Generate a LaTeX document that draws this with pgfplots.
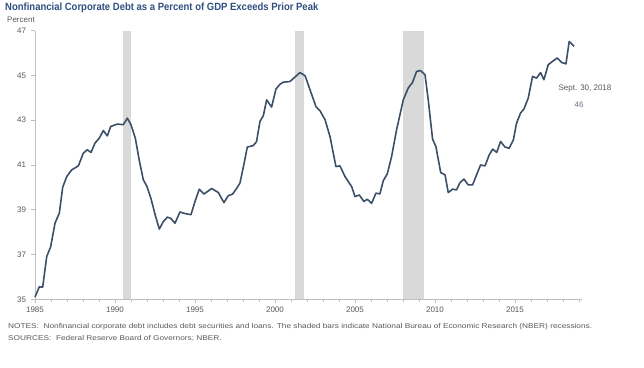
\documentclass[border=0pt]{standalone}
\usepackage{pgfplots}
\pgfplotsset{compat=1.18}
\usepackage{fontspec}
\setmainfont{Liberation Sans}
\definecolor{titleblue}{HTML}{2F4F7F}
\definecolor{linec}{HTML}{3B5068}
\definecolor{txtgray}{HTML}{595959}
\definecolor{axgray}{HTML}{BFBFBF}
\definecolor{recgray}{HTML}{D9D9D9}
\begin{document}
\begin{tikzpicture}[x=1pt,y=1pt]
\path[use as bounding box] (0,0) rectangle (644,367);
\node[anchor=west, inner sep=0, text=titleblue, font=\fontsize{10.5}{12}\selectfont\bfseries] at (5,359) {\scalebox{0.905}[1]{Nonfinancial Corporate Debt as a Percent of GDP Exceeds Prior Peak}};
\node[anchor=west, inner sep=0, text=txtgray, font=\fontsize{8}{9}\selectfont] at (7,347) {Percent};
\begin{axis}[
  at={(35pt,67.7pt)}, anchor=south west,
  scale only axis, width=546.5pt, height=268.6pt,
  xmin=1985, xmax=2019.16, ymin=35, ymax=47,
  axis x line*=bottom, axis y line*=left,
  axis line style={axgray, line width=0.8pt},
  xtick={1985,1990,...,2015}, minor xtick={1985,...,2019},
  ytick={35,37,...,47},
  tick align=outside,
  major tick length=4pt, minor tick length=3pt,
  tick style={axgray, line width=0.6pt},
  x tick label style={/pgf/number format/1000 sep={}, text=txtgray, font=\fontsize{8}{9}\selectfont},
  y tick label style={text=txtgray, font=\fontsize{8}{9}\selectfont, xshift=-1.5pt},
  /pgf/number format/assume math mode=true,
  clip=false,
]
\addplot[fill=recgray, draw=none] coordinates {(1990.5,35) (1991.0,35) (1991.0,47) (1990.5,47)} --cycle;
\addplot[fill=recgray, draw=none] coordinates {(2001.25,35) (2001.8,35) (2001.8,47) (2001.25,47)} --cycle;
\addplot[fill=recgray, draw=none] coordinates {(2008.0,35) (2009.3,35) (2009.3,47) (2008.0,47)} --cycle;
\addplot[linec, line width=1.6pt, line join=round] coordinates {
(1985.0,35.1) (1985.27,35.56) (1985.48,35.54) (1985.73,36.9) (1985.98,37.35)
(1986.25,38.4) (1986.52,38.85) (1986.73,40.0) (1986.98,40.48) (1987.29,40.78)
(1987.71,40.96) (1988.02,41.53) (1988.27,41.68) (1988.5,41.56) (1988.75,41.98)
(1989.02,42.2) (1989.27,42.54) (1989.52,42.3) (1989.73,42.72) (1990.15,42.83)
(1990.52,42.8) (1990.77,43.09) (1991.0,42.8) (1991.27,42.2) (1991.52,41.2)
(1991.77,40.34) (1992.0,40.04) (1992.25,39.5) (1992.5,38.8) (1992.77,38.14)
(1993.02,38.47) (1993.27,38.67) (1993.48,38.62) (1993.75,38.4) (1994.06,38.9)
(1994.38,38.83) (1994.75,38.78) (1995.0,39.37) (1995.27,39.92) (1995.56,39.7)
(1996.04,39.95) (1996.46,39.77) (1996.81,39.32) (1997.08,39.63) (1997.35,39.7)
(1997.6,39.95) (1997.81,40.19) (1998.05,41.0) (1998.27,41.8) (1998.65,41.87)
(1998.85,42.05) (1999.06,42.94) (1999.27,43.2) (1999.48,43.91) (1999.79,43.59)
(2000.06,44.39) (2000.3,44.6) (2000.52,44.7) (2000.94,44.73) (2001.25,44.93)
(2001.56,45.13) (2001.88,44.99) (2002.19,44.36) (2002.56,43.61) (2002.81,43.43)
(2003.13,43.02) (2003.44,42.27) (2003.81,40.93) (2004.06,40.96) (2004.38,40.48)
(2004.79,40.04) (2005.0,39.59) (2005.27,39.66) (2005.56,39.37) (2005.77,39.47)
(2006.04,39.29) (2006.31,39.74) (2006.56,39.71) (2006.77,40.3) (2007.02,40.6)
(2007.29,41.38) (2007.6,42.57) (2008.02,43.91) (2008.33,44.44) (2008.6,44.69)
(2008.85,45.18) (2009.1,45.22) (2009.38,45.03) (2009.58,43.91) (2009.85,42.16)
(2010.06,41.82) (2010.36,40.66) (2010.63,40.56) (2010.83,39.77) (2011.1,39.92)
(2011.35,39.89) (2011.56,40.21) (2011.81,40.37) (2012.08,40.11) (2012.35,40.11)
(2012.6,40.56) (2012.85,41.0) (2013.13,40.96) (2013.39,41.45) (2013.61,41.71)
(2013.86,41.56) (2014.1,42.05) (2014.38,41.8) (2014.64,41.75) (2014.9,42.12)
(2015.1,42.87) (2015.35,43.32) (2015.56,43.5) (2015.83,43.99) (2016.1,44.96)
(2016.35,44.88) (2016.6,45.13) (2016.81,44.81) (2017.08,45.48) (2017.35,45.63)
(2017.64,45.78) (2017.92,45.58) (2018.19,45.52) (2018.39,46.52) (2018.69,46.3)
};
\end{axis}
\node[text=txtgray, font=\fontsize{8}{9}\selectfont, inner sep=0] at (585,278) {Sept. 30, 2018};
\node[text=linec!80, font=\fontsize{8}{9}\selectfont, inner sep=0] at (579,262) {46};
\node[anchor=west, inner sep=0, text=txtgray, font=\fontsize{8.2}{9}\selectfont] at (8,40) {\scalebox{1.01}[0.85]{NOTES:\ \ Nonfinancial corporate debt includes debt securities and loans. The shaded bars indicate National Bureau of Economic Research (NBER) recessions.}};
\node[anchor=west, inner sep=0, text=txtgray, font=\fontsize{8.2}{9}\selectfont] at (8,29) {\scalebox{1.01}[0.85]{SOURCES:\ \ Federal Reserve Board of Governors; NBER.}};
\end{tikzpicture}
\end{document}
